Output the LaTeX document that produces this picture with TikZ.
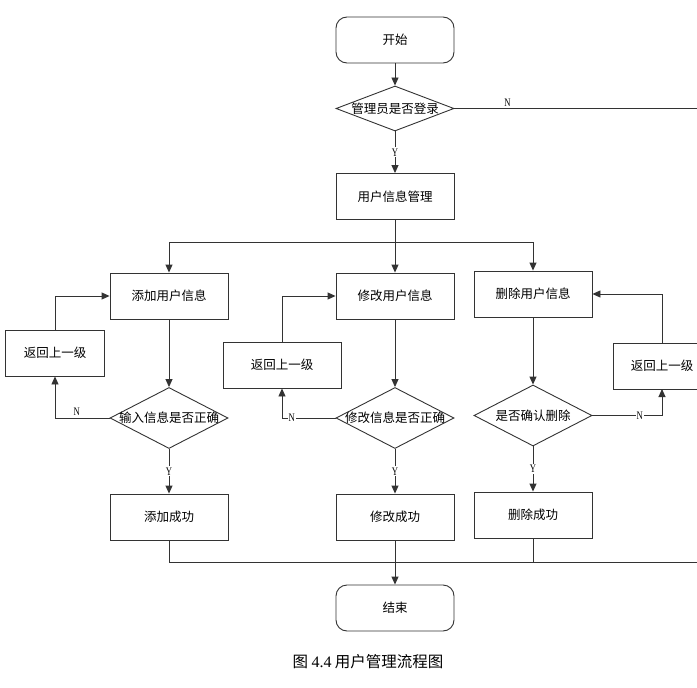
\documentclass[tikz,border=0pt]{standalone}
\usepackage{fontspec}
\setmainfont{Liberation Serif}
\newfontfamily\cjk{Noto Sans CJK SC}
\usetikzlibrary{arrows.meta,shapes.geometric}
\tikzset{
  ln/.style={draw=black!80, line width=0.9pt},
  arr/.style={ln, -{Triangle[length=8pt,width=7pt]}},
  boxn/.style={draw=black!80, line width=0.9pt, minimum width=118pt, minimum height=46pt, font=\cjk\fontsize{12.5}{14}\selectfont, inner sep=0pt},
  term/.style={boxn, rounded corners=11pt},
  dia/.style={draw=black!80, line width=0.9pt, shape=diamond, minimum width=118pt, inner sep=0pt},
  dtext/.style={font=\cjk\fontsize{12.5}{14}\selectfont, inner sep=0pt},
  lbl/.style={font=\rmfamily\fontsize{11.5}{12}\selectfont, inner sep=1pt, fill=white, xscale=0.75},
  lbln/.style={font=\rmfamily\fontsize{11.5}{12}\selectfont, inner sep=1pt, xscale=0.75}
}
\begin{document}
\begin{tikzpicture}[x=1pt,y=-1pt]
\useasboundingbox (0,0) rectangle (697,688);
\clip (0,0) rectangle (697,688);
\fill[white] (0,0) rectangle (697,688);

% nodes
\node[term] (start) at (395,40) {开始};
\node[dia, minimum height=45pt] (d1) at (395,108.5) {};
\node[dtext] (t1) at (d1) {管理员是否登录};
\node[boxn] (mgmt) at (395,196.5) {用户信息管理};

\node[boxn] (add) at (169,296) {添加用户信息};
\node[boxn] (mod) at (395,296) {修改用户信息};
\node[boxn] (del) at (533,294) {删除用户信息};

\node[boxn, minimum width=99pt] (back1) at (55,353) {返回上一级};
\node[boxn] (back2) at (282,365) {返回上一级};
\node[boxn, minimum width=100pt] (back3) at (663,366) {};
\node[dtext] (t3b) at (662,366) {返回上一级};

\node[dia, minimum height=61pt] (d2) at (169,418) {};
\node[dtext] (t2) at (d2) {输入信息是否正确};
\node[dia, minimum height=61pt] (d3) at (395,418) {};
\node[dtext] (t3) at (d3) {修改信息是否正确};
\node[dia, minimum height=61pt] (d4) at (533,415.5) {};
\node[dtext] (t4) at (d4) {是否确认删除};

\node[boxn] (ok1) at (169,517) {添加成功};
\node[boxn] (ok2) at (395,517) {修改成功};
\node[boxn] (ok3) at (533,515) {删除成功};

\node[term] (end) at (395,608) {结束};

\node[font=\cjk\fontsize{15.5}{17}\selectfont, inner sep=0pt] (cap) at (368,662) {图 {\rmfamily\fontsize{16}{17}\selectfont 4.4} 用户管理流程图};

% connectors
\draw[arr] (start) -- (d1);
\coordinate (rtop) at (720,108.5);
\draw[ln] (d1.east) -- node[lbln, above=1pt, pos=0.2] {N} (rtop);
\draw[arr] (d1) -- node[lbl] {Y} (mgmt);

\coordinate (bL) at (169,242);
\coordinate (bR) at (533,242);
\draw[ln] (bL) -- (bR);
\draw[arr] (mgmt) -- (mod);
\draw[arr] (bL) -- (add);
\draw[arr] (bR) -- (del);

\draw[arr] (add) -- (d2);
\draw[arr] (mod) -- (d3);
\draw[arr] (del) -- (d4);

\draw[arr] (d2.west) -| node[lbln, pos=0.3, above=1pt] {N} (back1.south);
\draw[arr] (back1.north) |- (add.west);
\draw[arr] (d3.west) -| node[lbl, pos=0.41] {N} (back2.south);
\draw[arr] (back2.north) |- (mod.west);
\coordinate (b3s) at (662,389);
\coordinate (b3n) at (662,343);
\draw[arr] (d4.east) -| node[lbl, pos=0.34] {N} (b3s);
\draw[arr] (b3n) |- (del.east);

\draw[arr] (d2) -- node[lbl] {Y} (ok1);
\draw[arr] (d3) -- node[lbl] {Y} (ok2);
\draw[arr] (d4) -- node[lbl] {Y} (ok3);

\coordinate (j1) at (169,562);
\coordinate (j3) at (533,562);
\coordinate (jr) at (720,562);
\draw[ln] (ok1) -- (j1) -- (jr);
\draw[ln] (ok3) -- (j3);
\draw[arr] (ok2) -- (end);
\end{tikzpicture}
\end{document}
